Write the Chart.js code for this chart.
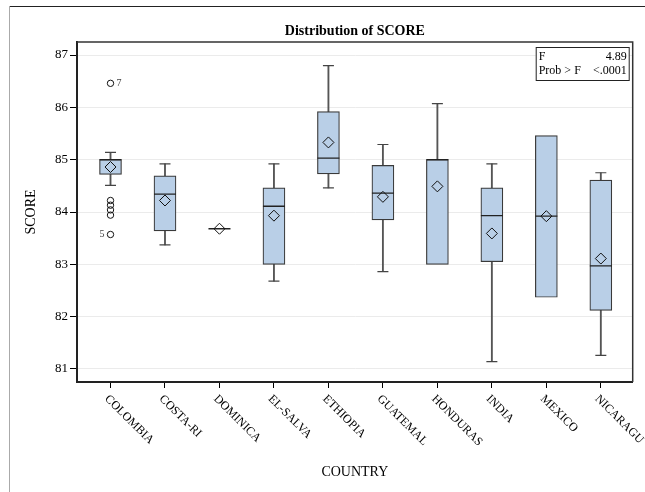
<!DOCTYPE html>
<html>
<head>
<meta charset="utf-8">
<script src="https://cdn.jsdelivr.net/npm/chart.js@4/dist/chart.umd.min.js"></script>
<style>
  html, body { margin: 0; padding: 0; background: #fff; }
  #wrap { width: 645px; height: 492px; position: relative; }
</style>
</head>
<body>
<div id="wrap"><canvas id="box-chart"></canvas></div>
<script>
// box plot statistics per country
var countries = ["COLOMBIA", "COSTA-RI", "DOMINICA", "EL-SALVA", "ETHIOPIA", "GUATEMAL", "HONDURAS", "INDIA", "MEXICO", "NICARAGU"];
var minVals = [84.51, 83.37, 83.68, 82.68, 84.46, 82.86, 83.00, 81.14, 82.37, 81.26];
var q1Vals  = [84.72, 83.64, 83.68, 83.00, 84.73, 83.85, 83.00, 83.05, 82.37, 82.12];
var medians = [85.00, 84.34, 83.68, 84.11, 85.03, 84.36, 85.00, 83.93, 83.92, 82.97];
var q3Vals  = [85.00, 84.69, 83.68, 84.46, 85.92, 84.89, 85.00, 84.46, 85.46, 84.61];
var maxVals = [85.14, 84.92, 83.68, 84.92, 86.80, 85.29, 86.07, 84.92, 85.46, 84.75];
var means   = [84.86, 84.22, 83.68, 83.93, 85.33, 84.29, 84.49, 83.59, 83.92, 83.11];

var outlierIdx    = [0, 0, 0, 0, 0, 0];
var outlierVals   = [86.46, 84.22, 84.13, 84.04, 83.94, 83.57];
var outlierLabels = ["7", "", "", "", "", "5"];

var yTicks = [81, 82, 83, 84, 85, 86, 87];
var statLabels = ["F", "Prob > F"];
var statValues = ["4.89", "<.0001"];

var chartTitle = "Distribution of SCORE";
var xTitle = "COUNTRY";
var yTitle = "SCORE";

var serif = "'Liberation Serif', 'Times New Roman', serif";

// build the point lists from the arrays
var boxData = [], upWhisk = [], loWhisk = [], capData = [], medData = [], meanData = [], outData = [];
for (var i = 0; i < countries.length; i++) {
  boxData.push({x: i, y: [q1Vals[i], q3Vals[i]]});
  if (maxVals[i] > q3Vals[i]) {
    upWhisk.push({x: i, y: [q3Vals[i], maxVals[i]]});
    capData.push({x: i, y: maxVals[i]});
  }
  if (minVals[i] < q1Vals[i]) {
    loWhisk.push({x: i, y: [minVals[i], q1Vals[i]]});
    capData.push({x: i, y: minVals[i]});
  }
  medData.push({x: i, y: medians[i]});
  meanData.push({x: i, y: means[i]});
}
for (var k = 0; k < outlierVals.length; k++) {
  outData.push({x: outlierIdx[k], y: outlierVals[k]});
}

var extras = {
  id: "extras",
  afterDraw: function(chart) {
    var ctx = chart.ctx;
    var a = chart.chartArea;
    var xs = chart.scales.x, ys = chart.scales.y;
    ctx.save();

    // outer frame of the graph image
    ctx.strokeStyle = "#222";
    ctx.lineWidth = 1;
    ctx.beginPath();
    ctx.moveTo(9, 6.5); ctx.lineTo(645, 6.5);
    ctx.stroke();
    ctx.strokeStyle = "#aaa";
    ctx.beginPath();
    ctx.moveTo(9.5, 6); ctx.lineTo(9.5, 492);
    ctx.stroke();

    // plot frame (top/right)
    ctx.strokeStyle = "#333";
    ctx.lineWidth = 1.5;
    ctx.beginPath();
    ctx.moveTo(a.left, a.top); ctx.lineTo(a.right, a.top); ctx.lineTo(a.right, a.bottom);
    ctx.stroke();

    // title
    ctx.fillStyle = "#000";
    ctx.font = "bold 14px " + serif;
    ctx.textAlign = "center";
    ctx.textBaseline = "middle";
    ctx.fillText(chartTitle, (a.left + a.right) / 2, 31);

    // axis titles
    ctx.font = "14px " + serif;
    ctx.fillText(xTitle, (a.left + a.right) / 2, 472);
    ctx.save();
    ctx.translate(31, (a.top + a.bottom) / 2);
    ctx.rotate(-Math.PI / 2);
    ctx.fillText(yTitle, 0, 0);
    ctx.restore();

    // rotated category labels
    ctx.font = "12px " + serif;
    ctx.textAlign = "left";
    for (var i = 0; i < countries.length; i++) {
      var px = xs.getPixelForValue(i);
      ctx.save();
      ctx.translate(px - 4, a.bottom + 15);
      ctx.rotate(Math.PI / 4);
      ctx.fillText(countries[i], 0, 0);
      ctx.restore();
    }

    // outlier ids
    ctx.font = "10px " + serif;
    ctx.fillStyle = "#444";
    for (var k = 0; k < outlierVals.length; k++) {
      if (!outlierLabels[k]) continue;
      var ox = xs.getPixelForValue(outlierIdx[k]);
      var oy = ys.getPixelForValue(outlierVals[k]);
      if (k === 0) { ctx.textAlign = "left"; ctx.fillText(outlierLabels[k], ox + 6, oy); }
      else { ctx.textAlign = "right"; ctx.fillText(outlierLabels[k], ox - 6, oy); }
    }

    // F statistic inset
    var bx = a.right - 97, by = a.top + 5, bw = 93, bh = 33;
    ctx.fillStyle = "#fff";
    ctx.fillRect(bx, by, bw, bh);
    ctx.strokeStyle = "#222";
    ctx.lineWidth = 1;
    ctx.strokeRect(bx + 0.5, by + 0.5, bw, bh);
    ctx.fillStyle = "#000";
    ctx.font = "12px " + serif;
    for (var s = 0; s < statLabels.length; s++) {
      var ty = by + 10 + s * 14;
      ctx.textAlign = "left";
      ctx.fillText(statLabels[s], bx + 3, ty);
      ctx.textAlign = "right";
      ctx.fillText(statValues[s], bx + bw - 2, ty);
    }
    ctx.restore();
  }
};

var boxChart = new Chart(document.getElementById("box-chart"), {
  type: "bar",
  data: {
    datasets: [
      {
        type: "scatter", label: "mean", data: meanData,
        pointStyle: "rectRot", pointRadius: 5.5,
        borderColor: "#111", borderWidth: 1, backgroundColor: "rgba(0,0,0,0)"
      },
      {
        type: "scatter", label: "outliers", data: outData,
        pointStyle: "circle", pointRadius: 3.2,
        borderColor: "#111", borderWidth: 1, backgroundColor: "rgba(0,0,0,0)"
      },
      {
        type: "scatter", label: "median", data: medData,
        pointStyle: "line", pointRadius: 11,
        borderColor: "#222", borderWidth: 1.3
      },
      {
        type: "scatter", label: "caps", data: capData,
        pointStyle: "line", pointRadius: 5.5,
        borderColor: "#444", borderWidth: 1.2
      },
      {
        label: "box", data: boxData, grouped: false,
        barThickness: 22, backgroundColor: "#b9cfe7",
        borderColor: "#3a3a3a", borderWidth: 1.2, borderSkipped: false
      },
      {
        label: "upper", data: upWhisk, grouped: false,
        barThickness: 1.2, backgroundColor: "#555", borderWidth: 0
      },
      {
        label: "lower", data: loWhisk, grouped: false,
        barThickness: 1.2, backgroundColor: "#555", borderWidth: 0
      }
    ]
  },
  options: {
    responsive: true,
    maintainAspectRatio: false,
    animation: false,
    layout: { padding: { left: 0, top: 42, right: 12, bottom: 0 } },
    plugins: {
      legend: { display: false },
      title: { display: false },
      tooltip: { enabled: false }
    },
    scales: {
      x: {
        type: "linear",
        min: -0.615,
        max: 9.585,
        offset: false,
        afterFit: function(scale) { scale.height = 110; },
        afterBuildTicks: function(scale) {
          scale.ticks = countries.map(function(c, i) { return {value: i}; });
        },
        ticks: { display: false },
        grid: { offset: false, drawOnChartArea: false, tickLength: 6, tickColor: "#000", tickWidth: 1 },
        border: { color: "#222", width: 2 }
      },
      y: {
        min: 80.75,
        max: 87.25,
        afterFit: function(scale) { scale.width = 77; },
        afterBuildTicks: function(scale) {
          scale.ticks = yTicks.map(function(v) { return {value: v}; });
        },
        ticks: { color: "#000", padding: 2, font: { family: serif, size: 13 } },
        grid: { color: "#ebebeb", tickColor: "#000", tickLength: 7, lineWidth: 1 },
        border: { color: "#222", width: 2 }
      }
    }
  },
  plugins: [extras]
});
</script>
</body>
</html>
